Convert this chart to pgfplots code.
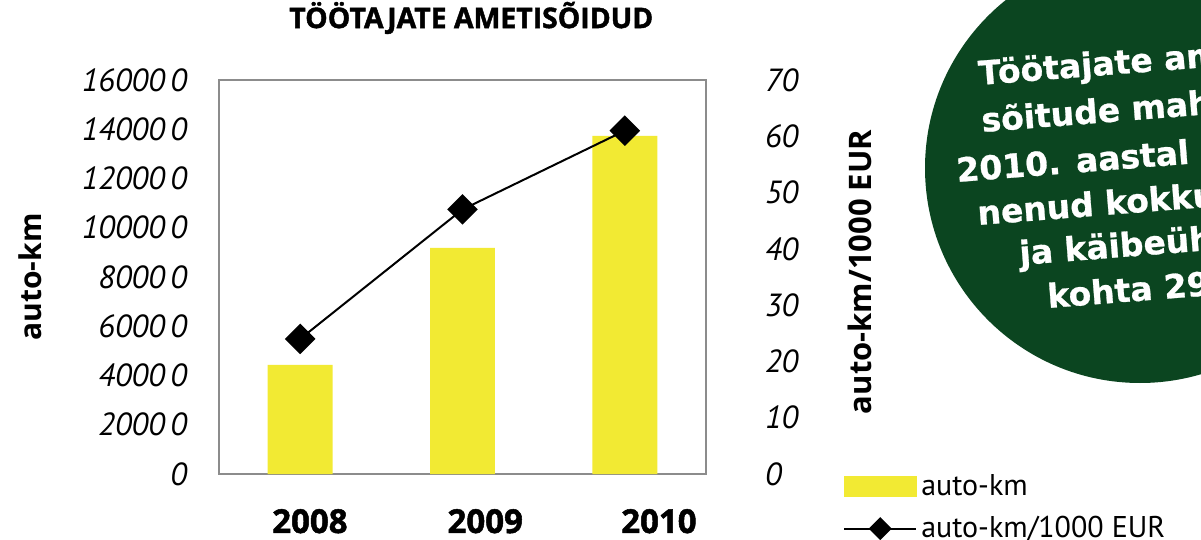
\documentclass[border=0pt]{standalone}
\usepackage{fontspec}
\setmainfont{PT Sans}
\newfontfamily\circfont{DejaVu Sans}[BoldFeatures={FakeBold=0.8}]
\newfontfamily\headfont{Open Sans}
\newfontfamily\heavyfont{Open Sans}[BoldFeatures={FakeBold=1.5}]
\usepackage{pgfplots}
\pgfplotsset{compat=1.18}
\definecolor{barY}{HTML}{F2EA33}
\definecolor{circG}{HTML}{0B4520}
\definecolor{boxG}{HTML}{8C8C8C}
\begin{document}
\begin{tikzpicture}
\useasboundingbox (0,0) rectangle (600.5pt,-270pt);
\begin{scope}
\clip (0,0) rectangle (600.5pt,-270pt);
\fill[circG] (570pt,-84pt) circle (107.5pt);
\begin{scope}[every node/.style={white, font=\circfont\bfseries\fontsize{16.5}{20}\selectfont, rotate=4.5, anchor=base west, inner sep=0pt}]
\node at (489.5pt,-42.5pt) {Töötajate ameti-};
\node at (491pt,-66pt) {sõitude maht on};
\node at (478.5pt,-91pt) {2010. aastal suure-};
\node at (489pt,-112.5pt) {nenud kokku 3 korda};
\node at (510pt,-132.5pt) {ja käibeühiku};
\node at (524pt,-154pt) {kohta 29\%};
\end{scope}
\end{scope}
\begin{axis}[
  at={(109.5pt,-237pt)}, anchor=south west,
  scale only axis, width=243.5pt, height=197pt,
  xmin=-0.5, xmax=2.5, ymin=0, ymax=160000,
  ybar, bar width=0.4,
  axis line style={boxG, line width=1pt},
  major tick length=0pt,
  xtick={0.06,1.14,2.21}, xticklabels={2008,2009,2010},
  xticklabel style={font=\heavyfont\bfseries\fontsize{16.5}{19}\selectfont, yshift=-14pt},
  ytick={0,20000,40000,60000,80000,100000,120000,140000,160000},
  yticklabels={0,2000\,0,4000\,0,6000\,0,8000\,0,10000\,0,12000\,0,14000\,0,16000\,0},
  scaled y ticks=false,
  yticklabel style={font=\itshape\fontsize{16}{18}\selectfont, xshift=-12.5pt},
  ylabel={auto-km},
  ylabel style={at={(axis description cs:-0.388,0.5)}, anchor=center, font=\headfont\bfseries\fontsize{15}{18}\selectfont},
  title={TÖÖTAJATE AMETISÕIDUD},
  title style={at={(axis description cs:0.518,1.127)}, anchor=center, font=\heavyfont\bfseries\fontsize{14.2}{16}\selectfont},
]
\addplot[fill=barY, draw=none] coordinates {(0,44300) (1,91800) (2,137300)};
\end{axis}
\begin{axis}[
  at={(109.5pt,-237pt)}, anchor=south west,
  scale only axis, width=243.5pt, height=197pt,
  xmin=-0.5, xmax=2.5, ymin=0, ymax=70,
  axis x line=none, axis y line*=right,
  y axis line style={draw=none},
  major tick length=0pt,
  ytick={0,10,...,70},
  /pgf/number format/assume math mode=true,
  yticklabel style={font=\itshape\fontsize{16}{18}\selectfont, xshift=26pt, anchor=west},
  ylabel={auto-km/1000 EUR},
  ylabel style={at={(axis description cs:1.316,0.513)}, anchor=center, rotate=0, font=\headfont\bfseries\fontsize{15.5}{18}\selectfont},
  legend style={at={(axis description cs:1.281,0.01)}, anchor=north west, draw=none, fill=none,
    font=\fontsize{15}{18}\selectfont, row sep=5pt, inner sep=0pt},
  legend cell align=left,
]
\addlegendimage{legend image code/.code={\fill[barY] (0pt,-5pt) rectangle (36pt,5pt);}}
\addlegendentry{auto-km}
\addplot[black, line width=1pt, mark=square*, mark size=4.9pt, mark options={rotate=45, fill=black},
  legend image code/.code={\draw[black, line width=1pt] (0pt,0pt) -- (36pt,0pt); \fill[black] (18pt,-5pt) -- (23pt,0pt) -- (18pt,5pt) -- (13pt,0pt) -- cycle;}]
  coordinates {(0,24) (1,47) (2,61)};
\addlegendentry{auto-km/1000 EUR}
\end{axis}
\end{tikzpicture}
\end{document}
